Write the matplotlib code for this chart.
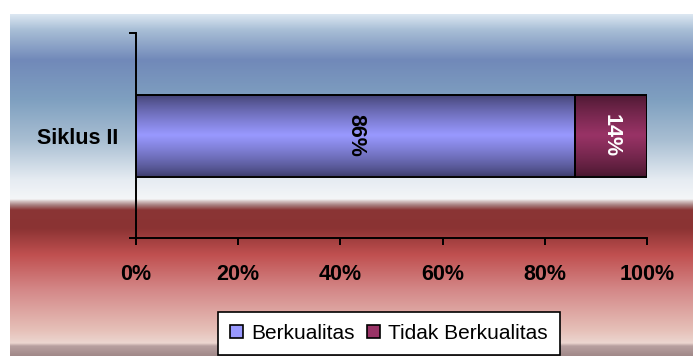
import numpy as np
import matplotlib
matplotlib.use("Agg")
import matplotlib.pyplot as plt
from matplotlib.colors import to_rgb
from matplotlib.patches import Patch

# chart data
categories = ["Siklus II"]
berkualitas = [86]
tidak_berkualitas = [14]
series_names = ["Berkualitas", "Tidak Berkualitas"]
xticks = [0, 20, 40, 60, 80, 100]
xtick_labels = ["0%", "20%", "40%", "60%", "80%", "100%"]

plt.rcParams['font.family'] = ['Liberation Sans', 'DejaVu Sans']

W, H, DPI = 6.93, 3.56, 100
fig = plt.figure(figsize=(W, H), dpi=DPI)
fig.patch.set_facecolor("white")

# background band gradient (pixel rows from top -> colour)
stops = [
    (14, "#dde8f2"), (30, "#a8bed6"), (60, "#7189b9"), (100, "#7fa0c0"),
    (140, "#a8bed2"), (180, "#e6ecf2"), (199, "#f4f6f8"), (201, "#d8c8c8"),
    (205, "#a88080"), (210, "#8a3535"), (228, "#8b3333"), (255, "#c05050"),
    (290, "#d48888"), (330, "#e6c0b8"), (343, "#ecd6d0"), (346, "#b8a0a0"),
    (356, "#a08888"),
]
rows = np.arange(14, 356) + 0.5
ys = [s[0] for s in stops]
cols = np.array([to_rgb(s[1]) for s in stops])
grad = np.stack([np.interp(rows, ys, cols[:, k]) for k in range(3)], axis=1)
grad = grad[:, None, :]
bg = fig.add_axes([10 / 693, 0, 683 / 693, (356 - 14) / 356])
bg.imshow(grad, aspect="auto", extent=[0, 1, 0, 1], interpolation="bilinear")
bg.axis("off")

ax = fig.add_axes([136 / 693, 1 - 238 / 356, (647 - 136) / 693, (238 - 33) / 356])
ax.patch.set_alpha(0)

y = np.arange(len(categories))
bh = 0.4
b1 = ax.barh(y, berkualitas, height=bh, color="#9999ff", edgecolor="black", linewidth=1.4, zorder=3)
b2 = ax.barh(y, tidak_berkualitas, left=berkualitas, height=bh, color="#993366",
             edgecolor="black", linewidth=1.4, zorder=3)


def shade(bars, edge, mid):
    t = np.linspace(0, 1, 64)
    prof = 1 - np.abs(t - 0.5) * 2
    prof = prof ** 0.8
    e, m = np.array(to_rgb(edge)), np.array(to_rgb(mid))
    img = (e[None, :] * (1 - prof[:, None]) + m[None, :] * prof[:, None])[:, None, :]
    for r in bars:
        x0, y0 = r.get_x(), r.get_y()
        im = ax.imshow(img, aspect="auto", extent=[x0, x0 + r.get_width(), y0, y0 + r.get_height()],
                       zorder=2, interpolation="bilinear")
        im.set_clip_path(r)
        r.set_facecolor("none")


shade(b1, "#404070", "#9999ff")
shade(b2, "#4a1830", "#993366")

for r, v in zip(b1, berkualitas):
    ax.text(r.get_x() + r.get_width() / 2, r.get_y() + r.get_height() / 2, f"{v}%",
            rotation=-90, ha="center", va="center", fontsize=15.5, fontweight="bold",
            color="black", zorder=4)
for r, v in zip(b2, tidak_berkualitas):
    ax.text(r.get_x() + r.get_width() / 2, r.get_y() + r.get_height() / 2, f"{v}%",
            rotation=-90, ha="center", va="center", fontsize=15.5, fontweight="bold",
            color="white", zorder=4)

ax.set_xlim(0, 100)
ax.set_ylim(-0.5, 0.5)
ax.set_xticks(xticks)
ax.set_xticklabels(xtick_labels, fontsize=15.5, fontweight="bold")
ax.set_yticks(y)
ax.set_yticklabels(categories, fontsize=15.5, fontweight="bold")
ax.set_yticks([-0.5, 0.5], minor=True)
ax.tick_params(axis="x", length=5, width=1.4, pad=14)
ax.tick_params(axis="y", which="major", length=0, pad=13)
ax.tick_params(axis="y", which="minor", length=5, width=1.4)
for s in ["top", "right"]:
    ax.spines[s].set_visible(False)
for s in ["left", "bottom"]:
    ax.spines[s].set_linewidth(1.4)

handles = [Patch(facecolor="#9999ff", edgecolor="black", linewidth=1.2),
           Patch(facecolor="#993366", edgecolor="black", linewidth=1.2)]
leg = fig.legend(handles, series_names, loc="lower center", bbox_to_anchor=(389 / 693, 0.003),
                 ncol=2, fontsize=15, frameon=True, fancybox=False, edgecolor="black",
                 framealpha=1, handlelength=0.6, handleheight=0.6, handletextpad=0.4,
                 columnspacing=0.6, borderpad=0.57, borderaxespad=0)
leg.get_frame().set_linewidth(1.2)

fig.savefig("out.png", dpi=DPI)
